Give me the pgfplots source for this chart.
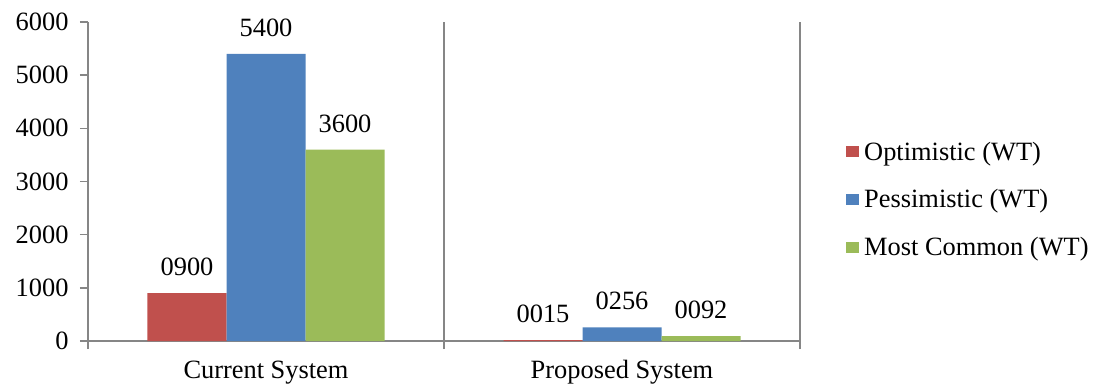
\documentclass[border=0pt]{standalone}
\usepackage{fontspec}
\setmainfont{Liberation Serif}
\usepackage{pgfplots}
\pgfplotsset{compat=1.18}
\definecolor{optred}{HTML}{C0504D}
\definecolor{pessblue}{HTML}{4F81BD}
\definecolor{commgreen}{HTML}{9BBB59}
\definecolor{axisgray}{HTML}{868686}
\newcommand\chartfont{\fontsize{26.5}{31}\selectfont}

\begin{document}
\begin{tikzpicture}
\useasboundingbox (-88bp,-46bp) rectangle (1011bp,341bp);
\begin{axis}[
  scale only axis, width=712bp, height=319bp,
  xmin=0, xmax=2, ymin=0, ymax=6000,
  axis lines*=left,
  axis line style={axisgray, line width=1.5bp},
  tick style={axisgray, line width=1.5bp},
  tick align=outside, major tick length=8bp,
  ytick={0,1000,...,6000},
  /pgf/number format/assume math mode=true,
  /pgf/number format/1000 sep={},
  yticklabel style={font=\chartfont, xshift=-8bp},
  xtick={0,1,2}, xticklabels={},
  xmajorgrids, major x grid style={axisgray, line width=1.5bp},
  extra x ticks={0.5,1.5},
  extra x tick labels={Current System, Proposed System},
  extra x tick style={grid=none, major tick length=0pt,
    xticklabel style={font=\chartfont, yshift=-16bp}},
  ybar=0pt, bar width=79bp,
  point meta=explicit symbolic,
  nodes near coords,
  every node near coord/.append style={font=\chartfont, inner sep=0pt, anchor=south, yshift=17bp},
  legend style={draw=none, fill=none, at={(1,0.5)}, anchor=west,
    xshift=46bp, yshift=-18bp, inner sep=0pt, row sep=24bp,
    font=\chartfont, cells={anchor=west}},
  legend image code/.code={\fill[#1, draw=none] (0bp,-5.5bp) rectangle (13bp,5.5bp); \path (16bp,0bp);},
]
\addplot[fill=optred, draw=none] coordinates {(0.5,900) [0900] (1.5,15) [0015]};
\addplot[fill=pessblue, draw=none] coordinates {(0.5,5400) [5400] (1.5,256) [0256]};
\addplot[fill=commgreen, draw=none] coordinates {(0.5,3600) [3600] (1.5,92) [0092]};
\legend{Optimistic (WT), Pessimistic (WT), Most Common (WT)}
\end{axis}
\end{tikzpicture}
\end{document}
